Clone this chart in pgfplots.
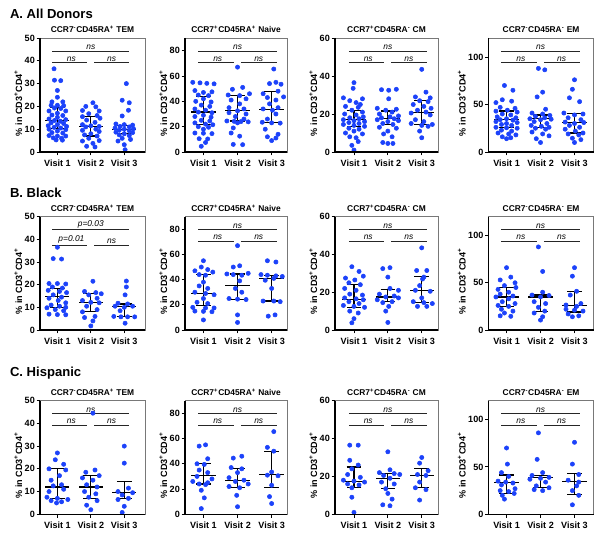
\documentclass[border=0pt]{standalone}
\usepackage{fontspec}
\setmainfont{Liberation Sans}
\usepackage{pgfplots}
\pgfplotsset{compat=1.18}
\definecolor{dotblue}{RGB}{28,66,250}
\definecolor{framegray}{RGB}{120,120,120}
\newcommand{\tickfont}{\fontsize{6.8}{7}\selectfont\bfseries}
\newcommand{\labfont}{\fontsize{6.8}{7}\selectfont\bfseries}
\newcommand{\ttlfont}{\fontsize{6.3}{7}\selectfont\bfseries}
\newcommand{\rowfont}{\fontsize{9.8}{11}\selectfont\bfseries}
\newcommand{\sigfont}{\fontsize{6.3}{7}\selectfont\itshape}
\newcommand{\ttlA}{CCR7\textsuperscript{-}CD45RA\textsuperscript{+} TEM}
\newcommand{\ttlB}{CCR7\textsuperscript{+}CD45RA\textsuperscript{+} Naive}
\newcommand{\ttlC}{CCR7\textsuperscript{+}CD45RA\textsuperscript{-} CM}
\newcommand{\ttlD}{CCR7\textsuperscript{-}CD45RA\textsuperscript{-} EM}
\tikzset{siglab/.style={anchor=south, inner sep=0.8pt, font=\sigfont}}
\pgfplotsset{
  panel/.style={
    scale only axis, anchor=south west, ymin=0, enlargelimits=false, clip=false,
    axis line style={draw=framegray, line width=0.6pt},
    tick pos=left, tick align=outside, major tick length=2.5pt,
    tick style={black, line width=0.7pt},
    xtick={1,2,3}, xticklabels={Visit 1,Visit 2,Visit 3},
    ticklabel style={font=\tickfont},
    yticklabel style={inner sep=1.2pt},
    /pgf/number format/assume math mode=true,
    ylabel={\% in CD3\textsuperscript{+}CD4\textsuperscript{+}},
    ylabel style={font=\labfont, at={(ticklabel cs:0.43,-2.8pt)}},
    title style={font=\ttlfont, at={(0.5,1)}, anchor=south, yshift=-3.5pt, inner sep=1pt},
    after end axis/.code={\draw[black, line width=0.9pt] (rel axis cs:0,1) -- (rel axis cs:0,0) -- (rel axis cs:1,0);}
  },
  dots/.style={only marks, color=dotblue, mark=*, mark size=1.6pt, mark options={solid, draw=none, fill=dotblue}},
  medl/.style={draw=none, mark=none, error bars/.cd, x dir=both, x fixed=0.36, error mark=none, error bar style={draw=black, line width=0.9pt}},
  iqr/.style={draw=none, mark=none, error bars/.cd, y dir=both, y explicit, error mark=|, error mark options={black, line width=0.9pt, mark size=5.5pt}, error bar style={draw=black, line width=0.9pt}},
  sigline/.style={black!85, line width=0.6pt, mark=none},
}
\newcommand{\sig}[5]{%
  \addplot[sigline] coordinates {(0.85,#1) (3.15,#1)};
  \addplot[sigline] coordinates {(0.85,#2) (1.9,#2)};
  \addplot[sigline] coordinates {(2.1,#2) (3.15,#2)};
  \node[siglab] at (axis cs:2,#1) {#3};
  \node[siglab] at (axis cs:1.42,#2) {#4};
  \node[siglab] at (axis cs:2.62,#2) {#5};
}
\newcommand{\medbars}[1]{%
  \addplot[medl] table[x=x, y=m, row sep=\\] {#1};
  \addplot[iqr] table[x=x, y=m, row sep=\\, y error plus expr=\thisrow{h}-\thisrow{m}, y error minus expr=\thisrow{m}-\thisrow{l}] {#1};
}
\begin{document}
\begin{tikzpicture}
\path (0,0) rectangle (451.5pt,402pt);
\node[anchor=west, font=\rowfont] at (4pt,391.5pt) {A. All Donors};
\node[anchor=west, font=\rowfont] at (4pt,257.3pt) {B. Black};
\node[anchor=west, font=\rowfont] at (4pt,122.3pt) {C. Hispanic};

% ================= ROW A =================
\begin{axis}[panel, at={(30pt,288pt)}, width=78.75pt, height=85.5pt, xmin=0.48, xmax=3.62, ymax=50, ytick={0,10,...,50}, title={\ttlA}]
\addplot[dots] table[row sep=\\, x expr=\thisrow{g}+1.25*\thisrow{o}, y=y] {g o y\\
1 -0.08 36.5\\ 1 -0.07 31.5\\ 1 0.08 31.3\\ 1 0 27\\ 1 0 24\\ 1 -0.13 22\\ 1 0.13 22\\ 1 -0.15 20.5\\ 1 0 20.5\\ 1 0.15 20.3\\
1 -0.07 19.3\\ 1 0.08 19.1\\ 1 -0.2 18\\ 1 0.2 18\\ 1 0 17\\ 1 -0.13 16.2\\ 1 0.13 16\\ 1 0 15.2\\ 1 -0.2 14.5\\ 1 0.2 14.2\\
1 -0.07 13.8\\ 1 0.07 13.5\\ 1 -0.15 12.8\\ 1 0.15 12.5\\ 1 0 12\\ 1 -0.22 11.5\\ 1 0.22 11.2\\ 1 -0.08 10.8\\ 1 0.08 10.5\\ 1 -0.2 10\\
1 0.2 9.8\\ 1 0 9.2\\ 1 -0.13 8.5\\ 1 0.13 8.3\\ 1 -0.2 7.2\\ 1 0 7\\ 1 0.2 7\\ 1 -0.1 6.2\\ 1 0.1 6\\ 1 -0.03 5.3\\ 1 0.12 5.2\\
2 0.05 21.6\\ 2 -0.12 20\\ 2 0.12 19.8\\ 2 -0.2 18.2\\ 2 0.2 18\\ 2 -0.05 16.8\\ 2 0.15 16\\ 2 -0.2 15.5\\ 2 0.22 14.8\\ 2 -0.1 14\\
2 0.1 13\\ 2 -0.2 12\\ 2 0 11.5\\ 2 0.2 11.2\\ 2 -0.12 11\\ 2 0.12 10\\ 2 -0.2 9.5\\ 2 0.2 9\\ 2 0 8\\ 2 -0.15 7.5\\
2 0.15 7\\ 2 -0.05 6\\ 2 0.2 5\\ 2 -0.2 4.8\\ 2 0.05 3.8\\ 2 -0.1 2.5\\ 2 0.1 2.2\\
3 0.05 30\\ 3 -0.05 22.7\\ 3 0.12 21.6\\ 3 0.1 18.3\\ 3 -0.05 15.8\\ 3 -0.2 12.3\\ 3 0 12\\ 3 0.2 11.8\\ 3 -0.1 11.2\\ 3 0.12 11\\
3 -0.22 10.5\\ 3 0.22 10.2\\ 3 0 10\\ 3 -0.12 9.6\\ 3 0.12 9.3\\ 3 -0.2 8.7\\ 3 0.2 8.5\\ 3 0 8\\ 3 -0.12 7.5\\ 3 0.12 7.2\\
3 -0.05 6\\ 3 0.15 5.5\\ 3 -0.15 4.8\\ 3 0 3.2\\ 3 0.02 1\\
};
\medbars{x m l h\\ 1 13.8 10.3 19.6\\ 2 11.2 7 15.5\\ 3 9.9 8 11.5\\}
\sig{44.2}{39.2}{ns}{ns}{ns}
\end{axis}

\begin{axis}[panel, at={(138.75pt,288pt)}, width=76.5pt, height=85.5pt, xmin=0.46, xmax=3.45, ymax=90, ytick={0,20,...,80}, title={\ttlB}]
\addplot[dots] table[row sep=\\, x expr=\thisrow{g}+1.25*\thisrow{o}, y=y] {g o y\\
1 -0.25 55\\ 1 -0.08 54.6\\ 1 0.08 54.2\\ 1 0.25 53.8\\ 1 -0.2 48.5\\ 1 0.2 47.5\\ 1 0 47\\ 1 -0.12 45\\ 1 0.12 44.5\\ 1 0 42\\
1 -0.18 40\\ 1 0.18 39.5\\ 1 -0.05 37\\ 1 0.15 36\\ 1 -0.2 34\\ 1 0.05 33\\ 1 -0.12 31.5\\ 1 0.2 31\\ 1 0 29\\ 1 -0.2 28\\
1 0.18 27.5\\ 1 -0.05 25\\ 1 0.15 24.5\\ 1 -0.2 23\\ 1 0.05 22\\ 1 0.22 21.5\\ 1 -0.12 20\\ 1 0.12 19.5\\ 1 0 18\\ 1 -0.2 15\\
1 0 14.8\\ 1 0.2 14.5\\ 1 -0.1 10.5\\ 1 0.1 10.3\\ 1 0.05 7.5\\ 1 -0.05 4.5\\
2 0 67\\ 2 0.12 51\\ 2 -0.12 49.5\\ 2 0.28 46\\ 2 -0.22 45\\ 2 0.05 44.5\\ 2 0.2 42\\ 2 -0.15 41\\ 2 0.05 38\\ 2 -0.2 35\\
2 0.15 34\\ 2 0 32.5\\ 2 -0.2 31\\ 2 0.2 30\\ 2 -0.05 28\\ 2 0.15 26\\ 2 -0.25 24.5\\ 2 -0.08 24.2\\ 2 0.08 24\\ 2 0.25 23.8\\
2 0 23\\ 2 -0.1 19\\ 2 -0.15 15\\ 2 0.05 12.5\\ 2 -0.1 6\\ 2 0.12 5.8\\
3 0.05 65.5\\ 3 0.1 55\\ 3 -0.05 54\\ 3 0.22 53.5\\ 3 0.15 48\\ 3 -0.2 46\\ 3 0.28 43.5\\ 3 -0.1 43\\ 3 0.1 41\\ 3 -0.05 38\\
3 0.15 35\\ 3 -0.2 34\\ 3 0.02 33\\ 3 0.1 30\\ 3 -0.1 26\\ 3 -0.22 23.5\\ 3 0 23\\ 3 0.2 22.8\\ 3 -0.15 18\\ 3 0.15 14\\
3 -0.1 12\\ 3 0.1 11\\ 3 0 9\\
};
\medbars{x m l h\\ 1 31.5 21.8 43.8\\ 2 32.8 24.4 44.6\\ 3 33.6 23.1 48\\}
\sig{79.6}{70.6}{ns}{ns}{ns}
\end{axis}

\begin{axis}[panel, at={(251.25pt,288pt)}, width=77.25pt, height=85.5pt, xmin=0.44, xmax=3.48, ymax=60, ytick={0,20,...,60}, title={\ttlC}]
\addplot[dots] table[row sep=\\, x expr=\thisrow{g}+1.25*\thisrow{o}, y=y] {g o y\\
1 0 36.5\\ 1 -0.02 33.5\\ 1 -0.25 28.5\\ 1 0.2 28\\ 1 -0.1 27\\ 1 0.05 26\\ 1 0.15 25\\ 1 -0.2 24\\ 1 0.1 23.5\\ 1 -0.05 22\\
1 0.2 21\\ 1 -0.22 20\\ 1 0.05 19.5\\ 1 0.22 18.5\\ 1 -0.1 18\\ 1 0.12 17.5\\ 1 -0.25 17\\ 1 0 16.5\\ 1 0.25 16\\ 1 -0.12 15.5\\
1 0.12 15\\ 1 -0.25 14.5\\ 1 0 14\\ 1 0.25 13.5\\ 1 -0.12 12.5\\ 1 0.12 12\\ 1 0 11\\ 1 -0.2 10\\ 1 0.2 9.5\\ 1 -0.1 8\\
1 0.05 7.5\\ 1 0.1 5.5\\ 1 -0.05 3.5\\ 1 0 1\\
2 0.2 33\\ 2 -0.15 32.8\\ 2 0.02 32.5\\ 2 0.02 28\\ 2 -0.25 23\\ 2 0.2 22.5\\ 2 -0.05 22\\ 2 0.1 21\\ 2 -0.2 20\\ 2 0.25 19\\
2 0.05 18.5\\ 2 -0.15 18\\ 2 0.15 17.5\\ 2 -0.25 17\\ 2 0.25 16.5\\ 2 0 16\\ 2 -0.12 15\\ 2 0.12 14.5\\ 2 -0.2 13\\ 2 0.2 12.5\\
2 0 11\\ 2 -0.1 9.5\\ 2 0.1 8\\ 2 -0.12 5\\ 2 0.12 4.5\\ 2 0 4.5\\
3 0 43.5\\ 3 0.1 31.5\\ 3 -0.15 29\\ 3 0.2 28.5\\ 3 -0.05 27\\ 3 0.15 26.5\\ 3 -0.2 25\\ 3 0.05 24\\ 3 0.22 23\\ 3 -0.1 22\\
3 0.1 21\\ 3 -0.25 20.5\\ 3 0.2 19.5\\ 3 -0.15 17\\ 3 0.05 16\\ 3 -0.25 15\\ 3 0.25 14.5\\ 3 0 14\\ 3 0.15 13.5\\ 3 -0.05 11\\
3 0 7.5\\
};
\medbars{x m l h\\ 1 17.2 13.5 21.9\\ 2 17.5 14.6 21.6\\ 3 20.7 14.4 27.2\\}
\sig{53.1}{47.1}{ns}{ns}{ns}
\end{axis}

\begin{axis}[panel, at={(366.4pt,288pt)}, width=78.75pt, height=85.5pt, xmin=0.47, xmax=3.56, ymax=120, ytick={0,50,100}, title={\ttlD}]
\addplot[dots] table[row sep=\\, x expr=\thisrow{g}+1.25*\thisrow{o}, y=y] {g o y\\
1 -0.05 70\\ 1 0.15 65\\ 1 -0.1 55\\ 1 0.12 53.5\\ 1 -0.25 52\\ 1 -0.15 47\\ 1 0.2 46\\ 1 0.02 44\\ 1 -0.25 43\\ 1 0.25 42\\
1 -0.1 40\\ 1 0.1 39\\ 1 -0.22 37\\ 1 0.22 36\\ 1 0 35\\ 1 -0.15 34\\ 1 0.15 33.5\\ 1 -0.25 32\\ 1 0.25 31\\ 1 0 30\\
1 -0.12 29\\ 1 0.12 28\\ 1 -0.25 26\\ 1 0 25.5\\ 1 0.25 25\\ 1 -0.12 23\\ 1 0.12 22\\ 1 -0.2 20\\ 1 0.05 19\\ 1 0.22 18\\
1 -0.1 16\\ 1 0.1 15\\ 1 0 14\\
2 -0.05 88\\ 2 0.1 86.5\\ 2 0.05 63\\ 2 -0.08 58\\ 2 0.12 45\\ 2 -0.2 41\\ 2 0.05 40\\ 2 0.22 38.5\\ 2 -0.12 37.5\\ 2 0.1 36\\
2 -0.25 35\\ 2 0.25 34.5\\ 2 0 34\\ 2 -0.15 32\\ 2 0.15 30\\ 2 -0.22 28\\ 2 0.02 27\\ 2 0.2 26\\ 2 -0.12 25\\ 2 0.12 24\\
2 -0.2 21\\ 2 0.05 19\\ 2 0.2 17\\ 2 -0.1 14\\ 2 0 10\\
3 0 76\\ 3 -0.05 66\\ 3 -0.12 57\\ 3 0.12 53\\ 3 -0.25 41\\ 3 0.2 40\\ 3 0 39\\ 3 -0.15 36\\ 3 0.15 34\\ 3 -0.22 31.5\\
3 0.22 31\\ 3 0 30\\ 3 -0.12 28\\ 3 0.12 26\\ 3 -0.22 24\\ 3 0.02 22\\ 3 0.2 20\\ 3 -0.15 19\\ 3 0.1 18\\ 3 -0.05 14.5\\
3 0.15 13\\ 3 0 10\\
};
\medbars{x m l h\\ 1 33.8 25.8 43.2\\ 2 35.5 25.8 39\\ 3 31.4 19.9 40.8\\}
\sig{106.2}{94.2}{ns}{ns}{ns}
\end{axis}

% ================= ROW B =================
\begin{axis}[panel, at={(30pt,154.5pt)}, width=78.75pt, height=85pt, xmin=0.48, xmax=3.62, ymax=50, ytick={0,10,...,50}, title={\ttlA}]
\addplot[dots] table[row sep=\\, x expr=\thisrow{g}+1.25*\thisrow{o}, y=y] {g o y\\
1 0 36.5\\ 1 -0.1 31.5\\ 1 0.1 31.3\\ 1 -0.2 20.5\\ 1 0 20.5\\ 1 0.2 20.3\\ 1 -0.12 19\\ 1 0.12 18.5\\ 1 -0.22 17.5\\ 1 0.05 17\\
1 0.22 16.5\\ 1 -0.1 15.5\\ 1 0.1 14.5\\ 1 -0.2 14\\ 1 0.02 13\\ 1 0.2 12\\ 1 -0.15 11\\ 1 0.05 10.5\\ 1 0.2 10\\ 1 -0.25 9.8\\
1 -0.05 9\\ 1 0.15 8.5\\ 1 -0.2 7\\ 1 0 6.8\\ 1 0.2 6.7\\
2 0.05 21.5\\ 2 -0.15 17\\ 2 0.12 16.5\\ 2 0.25 16\\ 2 -0.05 15.5\\ 2 0.15 14\\ 2 -0.2 13\\ 2 0 12.2\\ 2 0.2 12\\ 2 -0.1 10.5\\
2 0.15 9\\ 2 -0.2 8\\ 2 0.1 6\\ 2 -0.15 5.5\\ 2 0.05 4\\ 2 0 1.8\\
3 0.05 21.6\\ 3 0.05 19\\ 3 0.02 15.5\\ 3 -0.15 11.8\\ 3 0.08 11.5\\ 3 -0.22 10.5\\ 3 0.2 10.5\\ 3 0 10\\ 3 -0.1 8.5\\ 3 -0.25 6\\
3 -0.08 5.8\\ 3 0.08 5.8\\ 3 0.25 5.8\\ 3 0.02 3\\
};
\medbars{x m l h\\ 1 14.7 9.9 18.4\\ 2 12 8 16\\ 3 10.5 6 11.5\\}
\sig{44.2}{37.5}{p=0.03}{p=0.01}{ns}
\end{axis}

\begin{axis}[panel, at={(138.75pt,154.5pt)}, width=76.5pt, height=85pt, xmin=0.46, xmax=3.45, ymax=90, ytick={0,20,...,80}, title={\ttlB}]
\addplot[dots] table[row sep=\\, x expr=\thisrow{g}+1.25*\thisrow{o}, y=y] {g o y\\
1 0 55\\ 1 -0.05 50\\ 1 0.1 48\\ 1 -0.2 47\\ 1 0.22 46\\ 1 -0.1 44\\ 1 0.05 43.5\\ 1 0 38\\ 1 -0.1 35\\ 1 0.1 33\\
1 -0.2 30\\ 1 0.05 29\\ 1 0.25 28\\ 1 0 25\\ 1 -0.15 22\\ 1 0.1 21\\ 1 -0.25 18\\ 1 0.05 17.5\\ 1 0.25 17.5\\ 1 -0.2 15\\
1 0 14.8\\ 1 0.2 14.5\\ 1 0 8\\
2 0 67\\ 2 0.05 51\\ 2 -0.1 50\\ 2 0.25 45\\ 2 -0.25 44.5\\ 2 -0.1 44\\ 2 0.1 43.5\\ 2 0.05 39\\ 2 -0.05 33\\ 2 0.1 30\\
2 -0.2 25\\ 2 0 24.5\\ 2 0.2 24.2\\ 2 0 12\\ 2 0 6\\
3 -0.1 55\\ 3 0.1 54\\ 3 -0.25 44\\ 3 -0.1 43.5\\ 3 0.1 43\\ 3 0.25 42.5\\ 3 0.05 41\\ 3 -0.15 39.5\\ 3 0 33\\ 3 -0.2 23\\
3 0.05 23\\ 3 0.2 22.5\\ 3 0.08 12\\ 3 -0.08 11\\
};
\medbars{x m l h\\ 1 29 19.5 44\\ 2 35.5 24.5 44.5\\ 3 41 23 43\\}
\sig{79.6}{70.6}{ns}{ns}{ns}
\end{axis}

\begin{axis}[panel, at={(251.25pt,154.5pt)}, width=77.25pt, height=85pt, xmin=0.44, xmax=3.48, ymax=60, ytick={0,20,...,60}, title={\ttlC}]
\addplot[dots] table[row sep=\\, x expr=\thisrow{g}+1.25*\thisrow{o}, y=y] {g o y\\
1 -0.05 33.5\\ 1 0.12 31\\ 1 0.22 28.5\\ 1 -0.2 27.5\\ 1 0.02 26.5\\ 1 -0.12 25\\ 1 0.15 24\\ 1 -0.22 22\\ 1 0.05 21\\ 1 -0.1 19\\
1 0.2 18.5\\ 1 -0.22 17\\ 1 0.05 16.5\\ 1 0.22 16\\ 1 -0.12 15\\ 1 0.12 14\\ 1 -0.25 13\\ 1 0 12.5\\ 1 0.25 12\\ 1 -0.1 10\\
1 0.1 9\\ 1 0 6\\ 1 -0.05 3.8\\
2 0.05 33\\ 2 -0.12 32.5\\ 2 0 28\\ 2 0.05 22\\ 2 0.25 21\\ 2 -0.2 19\\ 2 0.15 18\\ 2 -0.05 17.5\\ 2 0.25 17\\ 2 -0.25 16\\
2 0.1 15\\ 2 -0.12 14.5\\ 2 0.02 12.5\\ 2 -0.05 10\\ 2 0 4\\
3 0 43.5\\ 3 -0.12 31.5\\ 3 0.12 31.5\\ 3 0.05 28\\ 3 0.02 27\\ 3 -0.05 23.5\\ 3 -0.15 21\\ 3 0.2 20.5\\ 3 0 17\\ 3 -0.2 15\\
3 0.05 14.5\\ 3 0.25 14\\ 3 -0.1 12.5\\ 3 0.12 12.5\\
};
\medbars{x m l h\\ 1 16 12 24\\ 2 17.5 15 21.5\\ 3 21 14.5 28.5\\}
\sig{53.1}{47.1}{ns}{ns}{ns}
\end{axis}

\begin{axis}[panel, at={(366.4pt,154.5pt)}, width=78.75pt, height=85pt, xmin=0.47, xmax=3.56, ymax=120, ytick={0,50,100}, title={\ttlD}]
\addplot[dots] table[row sep=\\, x expr=\thisrow{g}+1.25*\thisrow{o}, y=y] {g o y\\
1 0 66\\ 1 0.1 56\\ 1 -0.15 53\\ 1 0.2 50\\ 1 -0.05 47\\ 1 0.22 45\\ 1 -0.2 43\\ 1 0.05 40\\ 1 -0.15 38\\ 1 0.15 36\\
1 -0.25 35\\ 1 0.05 33\\ 1 -0.1 30\\ 1 0.2 28\\ 1 -0.2 26\\ 1 0.05 25\\ 1 -0.12 22\\ 1 0.15 20\\ 1 -0.05 18\\ 1 -0.15 15\\
1 0.1 14.5\\
2 -0.05 88\\ 2 0.05 62\\ 2 0.05 40\\ 2 -0.2 37\\ 2 0.2 36.5\\ 2 0 35\\ 2 -0.15 30\\ 2 0.12 28\\ 2 -0.05 24\\ 2 0.1 20\\
2 -0.15 18\\ 2 0.05 14\\ 2 0 10.5\\
3 0 66\\ 3 -0.05 57\\ 3 0.05 41\\ 3 -0.1 37\\ 3 0.15 28\\ 3 -0.2 26.5\\ 3 0.05 25\\ 3 -0.2 22\\ 3 0 21\\ 3 0.2 20\\
3 -0.15 17\\ 3 0.1 15\\ 3 -0.05 14\\
};
\medbars{x m l h\\ 1 35 25 45\\ 2 35 20 37\\ 3 26 19 41\\}
\sig{106.2}{94.2}{ns}{ns}{ns}
\end{axis}

% ================= ROW C =================
\begin{axis}[panel, at={(30pt,16.3pt)}, width=78.75pt, height=85.2pt, xmin=0.48, xmax=3.62, ymax=50, ytick={0,10,...,50}, title={\ttlA}]
\addplot[dots] table[row sep=\\, x expr=\thisrow{g}+1.25*\thisrow{o}, y=y] {g o y\\
1 0 27\\ 1 -0.05 24\\ 1 0.15 22\\ 1 -0.2 20\\ 1 0.2 19.5\\ 1 0.05 17\\ 1 -0.15 15\\ 1 0.1 13\\ 1 -0.1 12.5\\ 1 0.15 11\\
1 -0.2 10\\ 1 -0.25 7.5\\ 1 0 7\\ 1 0.25 6.5\\ 1 -0.15 6\\ 1 0.1 5.5\\ 1 -0.02 5\\
2 0.05 44.5\\ 2 0.1 19.5\\ 2 -0.12 18.5\\ 2 0.2 17\\ 2 -0.2 16\\ 2 0.05 15\\ 2 -0.1 13\\ 2 0.15 12\\ 2 -0.15 10\\ 2 0.12 9\\
2 -0.05 7.5\\ 2 0.15 6\\ 2 -0.1 4\\ 2 0 2\\
3 0 30\\ 3 0 22.5\\ 3 0.1 11.5\\ 3 -0.15 10\\ 3 0.2 9.5\\ 3 -0.05 8.5\\ 3 0.1 7\\ 3 -0.15 6.5\\ 3 0 3.5\\ 3 -0.05 0.8\\
};
\medbars{x m l h\\ 1 12 6.8 20\\ 2 12 7 17\\ 3 9.5 7 14.5\\}
\sig{44.2}{39.2}{ns}{ns}{ns}
\end{axis}

\begin{axis}[panel, at={(138.75pt,16.3pt)}, width=76.5pt, height=85.2pt, xmin=0.46, xmax=3.45, ymax=90, ytick={0,20,...,80}, title={\ttlB}]
\addplot[dots] table[row sep=\\, x expr=\thisrow{g}+1.25*\thisrow{o}, y=y] {g o y\\
1 0.05 55\\ 1 -0.1 54\\ 1 0.1 44\\ 1 -0.15 40\\ 1 0.02 39.5\\ 1 -0.1 35\\ 1 0.1 33\\ 1 -0.15 30\\ 1 0.2 28\\ 1 -0.25 26\\
1 0.1 25\\ 1 -0.1 24\\ 1 0.05 23.5\\ 1 -0.05 19\\ 1 0.02 13\\ 1 -0.05 4.5\\
2 0.1 46\\ 2 -0.1 44.5\\ 2 -0.15 37\\ 2 0.1 36\\ 2 0 33\\ 2 -0.2 29\\ 2 0.15 27\\ 2 -0.05 26\\ 2 0.25 24\\ 2 -0.2 22\\
2 0.05 21\\ 2 -0.02 15\\ 2 0 6\\
3 0.05 65.5\\ 3 -0.1 53\\ 3 0.05 50\\ 3 0 33.5\\ 3 -0.1 31\\ 3 0.15 30.5\\ 3 0 23\\ 3 -0.05 14\\ 3 0 8.5\\
};
\medbars{x m l h\\ 1 31 24 40\\ 2 26.5 21.5 36.5\\ 3 31.5 21 50\\}
\sig{79.6}{70.6}{ns}{ns}{ns}
\end{axis}

\begin{axis}[panel, at={(251.25pt,16.3pt)}, width=77.25pt, height=85.2pt, xmin=0.44, xmax=3.48, ymax=60, ytick={0,20,...,60}, title={\ttlC}]
\addplot[dots] table[row sep=\\, x expr=\thisrow{g}+1.25*\thisrow{o}, y=y] {g o y\\
1 -0.1 36.5\\ 1 0.1 36.5\\ 1 -0.1 28.5\\ 1 0.1 26\\ 1 -0.05 24\\ 1 -0.15 21\\ 1 0.15 19.5\\ 1 -0.25 18\\ 1 0 17.5\\ 1 0.25 17\\
1 -0.15 16\\ 1 0.12 15.5\\ 1 -0.05 14\\ 1 -0.05 9\\ 1 0 1\\
2 0 33\\ 2 0.05 23.5\\ 2 -0.2 22\\ 2 0.15 21.5\\ 2 0.28 21\\ 2 -0.1 20.5\\ 2 0.05 19\\ 2 -0.15 17\\ 2 0.15 16\\ 2 -0.05 13.5\\
2 0 11\\ 2 0.1 8\\ 2 -0.12 5\\ 2 0.05 4.5\\
3 0 30\\ 3 -0.05 27\\ 3 0.15 23\\ 3 -0.1 21\\ 3 0.1 20.5\\ 3 -0.05 17\\ 3 -0.15 14\\ 3 0.1 13\\ 3 -0.05 7.5\\
};
\medbars{x m l h\\ 1 17.5 14 25\\ 2 19 13.5 21.5\\ 3 20.5 14 24\\}
\sig{53.1}{47.1}{ns}{ns}{ns}
\end{axis}

\begin{axis}[panel, at={(366.4pt,16.3pt)}, width=78.75pt, height=85.2pt, xmin=0.47, xmax=3.56, ymax=120, ytick={0,50,100}, title={\ttlD}]
\addplot[dots] table[row sep=\\, x expr=\thisrow{g}+1.25*\thisrow{o}, y=y] {g o y\\
1 0 70\\ 1 0.02 53\\ 1 -0.12 44\\ 1 0.05 40\\ 1 -0.2 35\\ 1 -0.02 34\\ 1 0.15 33\\ 1 -0.12 31\\ 1 0.2 27\\ 1 -0.15 25\\
1 0.05 24\\ 1 0.18 22\\ 1 -0.1 20\\ 1 -0.05 16\\
2 -0.05 86\\ 2 -0.08 58\\ 2 0.05 44\\ 2 -0.2 41\\ 2 0.2 39\\ 2 0 38\\ 2 -0.25 37\\ 2 0.12 34\\ 2 -0.1 30\\ 2 0.2 28\\
2 -0.15 26\\ 2 0.05 25\\
3 0 76\\ 3 -0.05 53\\ 3 0.1 42\\ 3 -0.15 36\\ 3 0.1 34\\ 3 0.05 30\\ 3 -0.05 25\\ 3 0.1 20\\ 3 -0.05 10\\
};
\medbars{x m l h\\ 1 33.5 22 41.5\\ 2 38.5 28.5 41\\ 3 34.5 20.5 43\\}
\sig{106.2}{94.2}{ns}{ns}{ns}
\end{axis}
\end{tikzpicture}
\end{document}
